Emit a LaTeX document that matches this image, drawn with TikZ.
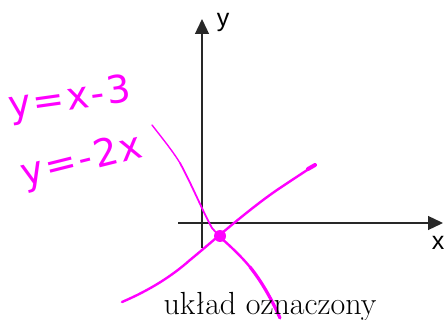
\documentclass[tikz,border=0pt]{standalone}
\usepackage{fontspec}
\newfontfamily\axfont{Liberation Sans}
\newfontfamily\handfont[LetterSpace=6]{DejaVu Sans}
\usetikzlibrary{arrows.meta}
\definecolor{pink}{RGB}{255,0,255}
\definecolor{axgray}{RGB}{40,40,40}
\tikzset{
  axis/.style={draw=axgray, line width=1.3pt, -{Triangle[length=15pt,width=14pt]}},
  pen/.style={draw=pink, line cap=round, line join=round},
  hand/.style={text=pink, font=\handfont\fontsize{38}{38}\selectfont, inner sep=0pt},
  axlab/.style={font=\axfont\fontsize{25}{25}\selectfont, text=black, inner sep=0pt}
}
\begin{document}
\begin{tikzpicture}[x=1pt,y=-1pt]
\useasboundingbox (0,0) rectangle (447,320);
% axes
\coordinate (xs) at (178,223);
\coordinate (xe) at (443,223);
\coordinate (ys) at (202,248);
\coordinate (ye) at (202,19);
\draw[axis] (xs) -- (xe);
\draw[axis] (ys) -- (ye);
\node[axlab, anchor=center] (ylab) at (223,22) {y};
\node[axlab, anchor=center] (xlab) at (438,243) {x};
% line y=-2x
\coordinate (a1) at (152,125);
\coordinate (a2) at (180,163);
\coordinate (a3) at (212,228);
\coordinate (a4) at (220,237);
\coordinate (a5) at (250,267);
\coordinate (a6) at (280,318);
\draw[pen, line width=1.4pt] (a1) .. controls (162,138) and (172,150) .. (a2);
\draw[pen, line width=1.8pt] (a2) .. controls (192,185) and (203,212) .. (a3) -- (a4);
\draw[pen, line width=2.4pt] (a4) .. controls (230,246) and (240,255) .. (a5);
\draw[pen, line width=3.2pt] (a5) .. controls (262,282) and (272,300) .. (a6);
% line y=x-3
\coordinate (b1) at (122,302);
\coordinate (b2) at (190,260);
\coordinate (b3) at (277,190);
\coordinate (b4) at (315,165);
\draw[pen, line width=2.4pt] (b1) .. controls (150,290) and (172,276) .. (b2)
  .. controls (205,248) and (245,212) .. (b3)
  .. controls (292,180) and (304,172) .. (b4);
\draw[pen, line width=4pt] (308,169) -- (b4);
% intersection
\node[circle, fill=pink, inner sep=0pt, minimum size=12pt] (pt) at (220,236) {};
% handwritten equations
\node[hand, rotate=8] (eq1) at (70,100) {y=x-3};
\node[hand, rotate=14] (eq2) at (82,162) {y=-2x};
% caption
\node[font=\fontsize{32}{32}\selectfont, anchor=base, inner sep=0pt] (cap) at (270,315) {układ oznaczony};
\end{tikzpicture}
\end{document}
